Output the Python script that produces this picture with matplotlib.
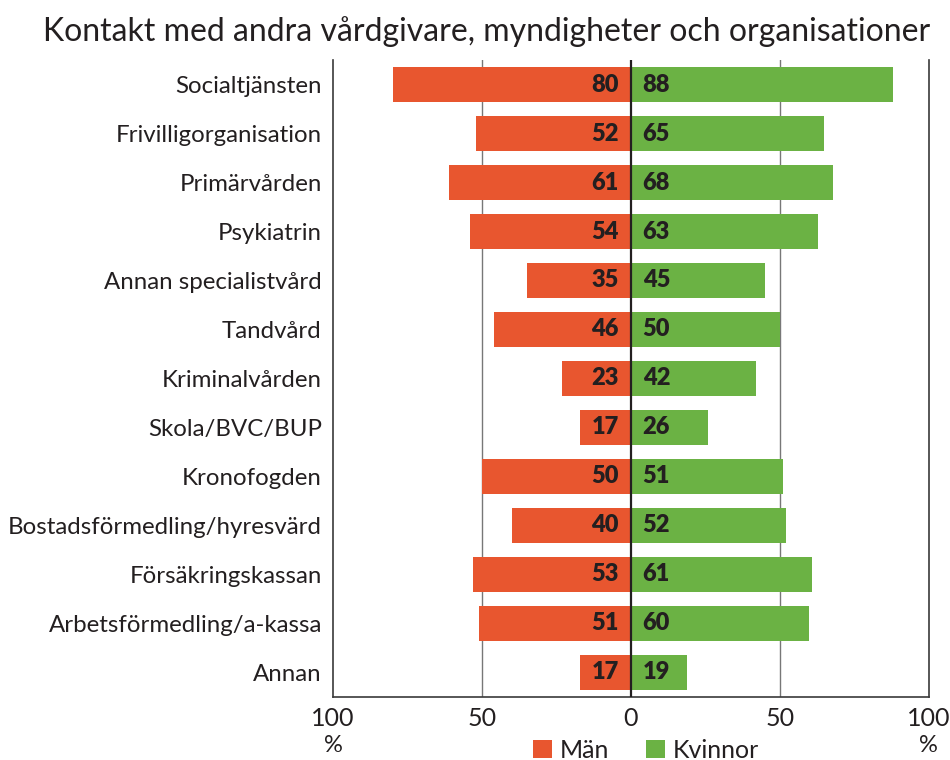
import matplotlib
matplotlib.use("Agg")
import matplotlib.pyplot as plt
import numpy as np

plt.rcParams["font.family"] = ["Lato", "DejaVu Sans"]

categories = ["Socialtjänsten", "Frivilligorganisation", "Primärvården", "Psykiatrin",
              "Annan specialistvård", "Tandvård", "Kriminalvården", "Skola/BVC/BUP",
              "Kronofogden", "Bostadsförmedling/hyresvärd", "Försäkringskassan",
              "Arbetsförmedling/a-kassa", "Annan"]
man = [80, 52, 61, 54, 35, 46, 23, 17, 50, 40, 53, 51, 17]
kvinnor = [88, 65, 68, 63, 45, 50, 42, 26, 51, 52, 61, 60, 19]
xticks = [-100, -50, 0, 50, 100]
xticklabels = ["100", "50", "0", "50", "100"]

red = "#E8562F"
green = "#6BB244"
dark = "#231F20"

fig = plt.figure(figsize=(9.5, 7.6), dpi=100)
ax = fig.add_axes([0.3505, 0.083, 0.627, 0.838])

y = np.arange(len(categories))
ax.barh(y, [-v for v in man], height=0.72, color=red, label="Män", zorder=2)
ax.barh(y, kvinnor, height=0.72, color=green, label="Kvinnor", zorder=2)

for yi, m, k in zip(y, man, kvinnor):
    ax.text(-4, yi, str(m), ha="right", va="center", fontsize=17,
            fontweight="heavy", color=dark, zorder=3)
    ax.text(4, yi, str(k), ha="left", va="center", fontsize=17,
            fontweight="heavy", color=dark, zorder=3)

ax.set_xlim(-100, 100)
ax.set_ylim(len(categories) - 0.5, -0.5)
ax.set_yticks(y)
ax.set_yticklabels(categories, fontsize=17.3, color=dark)
ax.set_xticks(xticks)
ax.set_xticklabels(xticklabels, fontsize=18, color=dark)
ax.tick_params(axis="both", length=0)
ax.tick_params(axis="y", pad=8)
ax.tick_params(axis="x", pad=7)

for xv in (-50, 50):
    ax.axvline(xv, color="#777777", lw=1.0, zorder=1)
ax.axvline(0, color=dark, lw=1.6, zorder=4)

ax.spines["top"].set_visible(False)
for s in ("left", "right", "bottom"):
    ax.spines[s].set_color("#3a3a3a")
    ax.spines[s].set_linewidth(1.2)

ax.text(0.0, -0.077, "%", transform=ax.transAxes, ha="center", va="center",
        fontsize=17, color=dark)
ax.text(1.0, -0.077, "%", transform=ax.transAxes, ha="center", va="center",
        fontsize=17, color=dark)

fig.legend(loc="center", bbox_to_anchor=(0.68, 0.013), ncol=2, frameon=False,
           fontsize=18, handlelength=0.75, handleheight=0.75, handletextpad=0.3,
           columnspacing=1.5, labelcolor=dark)

fig.text(0.512, 0.958, "Kontakt med andra vårdgivare, myndigheter och organisationer",
         ha="center", va="center", fontsize=23, color=dark)

fig.savefig("out.png", dpi=100)
